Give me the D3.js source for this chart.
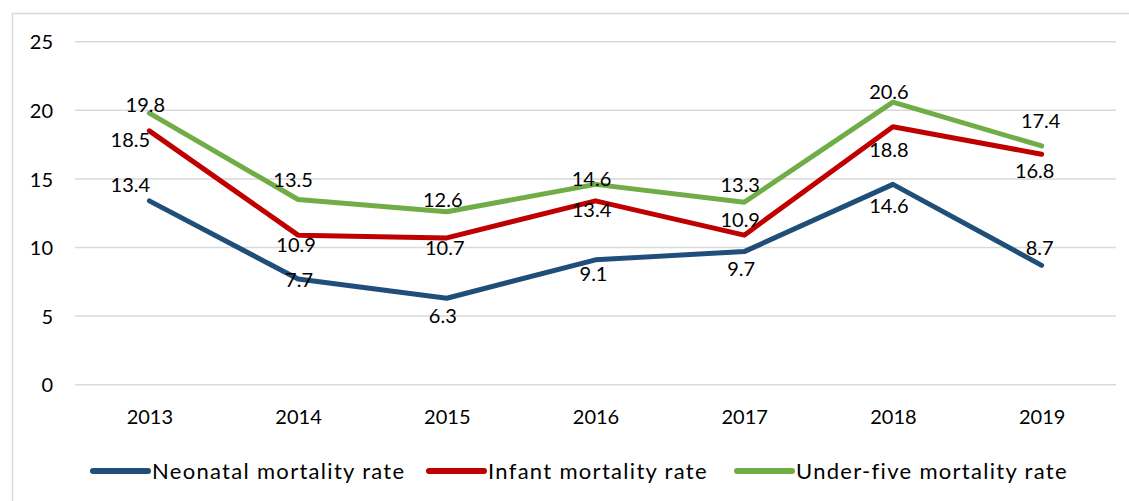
<!DOCTYPE html>
<html>
<head>
<meta charset="utf-8">
<script src="https://cdn.jsdelivr.net/npm/d3@7/dist/d3.min.js"></script>
<style>
  html, body { margin: 0; padding: 0; background: #fff; }
  svg { display: block; font-family: Lato, "Open Sans", sans-serif; }
</style>
</head>
<body>
<div id="chart"></div>
<script>
// dati
const years = ["2013", "2014", "2015", "2016", "2017", "2018", "2019"];
const neonatal = [13.4, 7.7, 6.3, 9.1, 9.7, 14.6, 8.7];
const infant = [18.5, 10.9, 10.7, 13.4, 10.9, 18.8, 16.8];
const underFive = [19.8, 13.5, 12.6, 14.6, 13.3, 20.6, 17.4];
const yTicks = [0, 5, 10, 15, 20, 25];
const seriesNames = ["Neonatal mortality rate", "Infant mortality rate", "Under-five mortality rate"];

// spostamenti delle etichette (dx, dy) rispetto al punto, come nell'originale
const labelShift = {
    neonatal: [[-19, -16], [1, 1], [-4, 18], [-2, 14], [-3, 17], [-4, 21], [-2, -18]],
    infant: [[-19, 9], [-2, 10], [-2, 10], [-4, 9], [-4, -15], [-4, 23], [-7, 17]],
    underFive: [[-4, -8], [-5, -20], [-4, -12], [-4, -6], [-4, -17], [-4, -10], [-1, -25]]
};

const WIDTH = 1129;
const HEIGHT = 501;

const series = [
    { key: "neonatal", name: seriesNames[0], values: neonatal, color: "#1f4e79" },
    { key: "infant", name: seriesNames[1], values: infant, color: "#c00000" },
    { key: "underFive", name: seriesNames[2], values: underFive, color: "#70ad47" }
];

const svg = d3.select("#chart").append("svg")
    .attr("width", WIDTH)
    .attr("height", HEIGHT);

// cornice del grafico (solo lato sinistro e superiore visibili)
svg.append("rect")
    .attr("x", 12.5).attr("y", 13.5)
    .attr("width", WIDTH + 20).attr("height", HEIGHT + 20)
    .attr("fill", "#fff")
    .attr("stroke", "#d9d9d9")
    .attr("stroke-width", 1.5);

const x = d3.scalePoint().domain(years).range([75, 1116]).padding(0.5);
const y = d3.scaleLinear().domain([0, 25]).range([384.7, 41.7]);

// griglia
svg.append("g")
    .selectAll("line")
    .data(yTicks)
    .join("line")
    .attr("x1", 75).attr("x2", 1116)
    .attr("y1", d => y(d)).attr("y2", d => y(d))
    .attr("stroke", "#d9d9d9")
    .attr("stroke-width", 1.5);

// asse Y
const yAxis = svg.append("g")
    .attr("transform", "translate(53,0)")
    .call(d3.axisLeft(y).tickValues(yTicks).tickSize(0).tickPadding(0));
yAxis.select(".domain").remove();
yAxis.selectAll("text")
    .attr("font-family", "Lato, sans-serif")
    .attr("font-size", 20)
    .attr("fill", "#000")
    .attr("dy", "0.36em");

// asse X
const xAxis = svg.append("g")
    .attr("transform", "translate(0,409)")
    .call(d3.axisBottom(x).tickSize(0).tickPadding(0));
xAxis.select(".domain").remove();
xAxis.selectAll("text")
    .attr("font-family", "Lato, sans-serif")
    .attr("font-size", 20)
    .attr("fill", "#000")
    .attr("dy", "0.75em");

const line = d3.line()
    .x((d, i) => x(years[i]))
    .y(d => y(d));

svg.append("g")
    .selectAll("path")
    .data(series)
    .join("path")
    .attr("d", d => line(d.values))
    .attr("fill", "none")
    .attr("stroke", d => d.color)
    .attr("stroke-width", 5)
    .attr("stroke-linejoin", "round")
    .attr("stroke-linecap", "round");

// etichette dei valori
series.forEach(s => {
    svg.append("g")
        .selectAll("text")
        .data(s.values)
        .join("text")
        .attr("x", (d, i) => x(years[i]) + labelShift[s.key][i][0])
        .attr("y", (d, i) => y(d) + labelShift[s.key][i][1])
        .attr("text-anchor", "middle")
        .attr("dy", "0.36em")
        .attr("font-size", 20)
        .attr("fill", "#000")
        .text(d => d.toFixed(1));
});

// legenda
const legendX = [93, 429, 737];
const legend = svg.append("g")
    .selectAll("g")
    .data(series)
    .join("g")
    .attr("transform", (d, i) => `translate(${legendX[i]},471)`);

legend.append("line")
    .attr("x1", 0).attr("x2", 55)
    .attr("stroke", d => d.color)
    .attr("stroke-width", 6)
    .attr("stroke-linecap", "round");

legend.append("text")
    .attr("x", 59)
    .attr("dy", "0.36em")
    .attr("font-size", 22)
    .attr("letter-spacing", 1.3)
    .attr("fill", "#000")
    .text(d => d.name);
</script>
</body>
</html>
